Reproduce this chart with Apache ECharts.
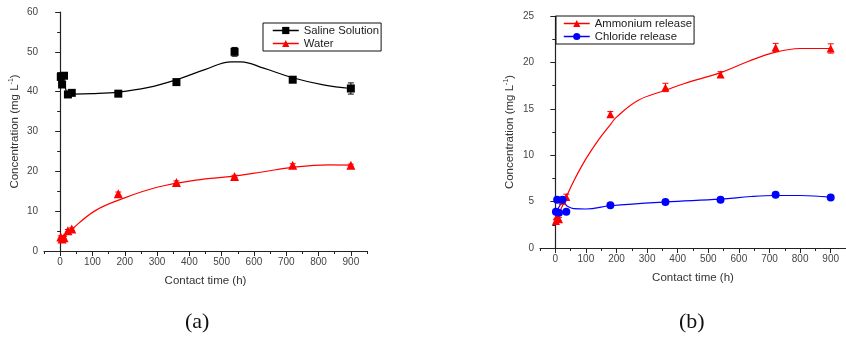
<!DOCTYPE html>
<html>
<head>
<meta charset="utf-8">
<script src="https://cdn.jsdelivr.net/npm/echarts@6/dist/echarts.min.js"></script>
<style>
  html, body { margin: 0; padding: 0; background: #fff; }
  #container { width: 846px; height: 343px; }
</style>
</head>
<body>
<div id="container"></div>
<script>
"use strict";

// sampling times (h)
const times = [2, 6, 12, 24, 36, 180, 360, 540, 720, 900];

// panel (a)
const saline = [43.7, 41.8, 44.0, 39.3, 39.7, 39.5, 42.4, 50.0, 43.0, 40.8];
const salineErr = [0.4, 0.4, 0.4, 0.4, 0.4, 0.4, 0.5, 1.1, 0.5, 1.4];
const water = [3.5, 3.0, 3.3, 5.1, 5.5, 14.4, 17.2, 18.7, 21.5, 21.5];
const waterErr = [0.3, 0.3, 0.3, 0.3, 0.3, 0.4, 0.4, 0.3, 0.4, 0.3];

// fitted curves (a)
const salineFitT = [2, 12, 25, 40, 100, 180, 270, 360, 450, 530, 560, 630, 720, 815, 900];
const salineFitV = [43.8, 42.0, 39.5, 39.4, 39.5, 39.9, 41.0, 43.0, 45.6, 47.5, 47.5, 45.9, 43.5, 41.7, 40.8];
const waterFitT = [0, 40, 110, 195, 300, 420, 540, 630, 720, 830, 900];
const waterFitV = [2.4, 5.7, 10.2, 13.2, 16.0, 17.8, 18.8, 19.9, 21.0, 21.6, 21.55];

// panel (b)
const ammonium = [2.9, 3.4, 3.1, 5.1, 5.5, 14.4, 17.3, 18.7, 21.6, 21.5];
const ammoniumErr = [0.2, 0.2, 0.2, 0.3, 0.3, 0.3, 0.45, 0.3, 0.45, 0.5];
const chloride = [3.9, 5.2, 3.8, 5.2, 3.9, 4.6, 4.95, 5.2, 5.75, 5.45];

const ammoniumFitT = [2, 20, 36, 60, 100, 140, 180, 200, 270, 360, 420, 540, 630, 720, 800, 900];
const ammoniumFitV = [3.0, 4.3, 5.5, 7.2, 9.6, 11.6, 13.3, 14.1, 15.9, 17.0, 17.7, 18.9, 20.1, 21.1, 21.5, 21.5];
const chlorideFitT = [2, 10, 20, 26, 40, 60, 100, 180, 360, 540, 640, 720, 800, 900];
const chlorideFitV = [3.9, 4.3, 4.8, 4.85, 4.5, 4.25, 4.2, 4.55, 4.97, 5.27, 5.55, 5.66, 5.66, 5.48];

const majorX = [0, 100, 200, 300, 400, 500, 600, 700, 800, 900];
const minorX = [-50, 50, 150, 250, 350, 450, 550, 650, 750, 850, 950];

const font = 'Liberation Sans, Arial, sans-serif';

function pairs(xs, ys) {
  return xs.map((x, i) => [x, ys[i]]);
}
function triples(xs, ys, es) {
  return xs.map((x, i) => [x, ys[i], es[i]]);
}

function errRender(params, api) {
  const x = api.value(0), y = api.value(1), e = api.value(2);
  const hi = api.coord([x, y + e]);
  const lo = api.coord([x, y - e]);
  const w = 3;
  const st = { stroke: api.visual('color'), lineWidth: 1 };
  return {
    type: 'group',
    children: [
      { type: 'line', shape: { x1: hi[0], y1: hi[1], x2: lo[0], y2: lo[1] }, style: st },
      { type: 'line', shape: { x1: hi[0] - w, y1: hi[1], x2: hi[0] + w, y2: hi[1] }, style: st },
      { type: 'line', shape: { x1: lo[0] - w, y1: lo[1], x2: lo[0] + w, y2: lo[1] }, style: st },
    ],
  };
}

function xAxes(grid) {
  return [
    {
      type: 'value', gridIndex: grid, min: -50, max: 950,
      name: 'Contact time (h)', nameLocation: 'middle', nameGap: 24,
      nameTextStyle: { fontFamily: font, fontSize: 11.5, color: '#333' },
      axisLine: { show: true, lineStyle: { color: '#222', width: 1.2 } },
      axisTick: { show: true, length: 5, customValues: majorX, lineStyle: { color: '#222' } },
      axisLabel: { customValues: majorX, fontFamily: font, fontSize: 10, color: '#444', margin: 6 },
      splitLine: { show: false },
    },
    {
      type: 'value', gridIndex: grid, min: -50, max: 950, position: 'bottom',
      axisLine: { show: false },
      axisTick: { show: true, length: 3, customValues: minorX, lineStyle: { color: '#222' } },
      axisLabel: { show: false },
      splitLine: { show: false },
    },
  ];
}

function yAxis(grid, max, interval, gap) {
  return {
    type: 'value', gridIndex: grid, min: 0, max: max, interval: interval,
    name: 'Concentration (mg L{sup|-1})', nameLocation: 'middle', nameGap: gap,
    nameTextStyle: {
      fontFamily: font, fontSize: 11.5, color: '#333',
      rich: { sup: { fontFamily: font, fontSize: 7, color: '#333', verticalAlign: 'top', padding: [0, 0, 6, 0] } },
    },
    axisLine: { show: true, lineStyle: { color: '#222', width: 1.2 } },
    axisTick: { show: true, length: 5, lineStyle: { color: '#222' } },
    minorTick: { show: true, splitNumber: 2, length: 3, lineStyle: { color: '#222' } },
    axisLabel: { fontFamily: font, fontSize: 10, color: '#444', margin: 6 },
    splitLine: { show: false },
  };
}

function points(name, x, y, data, color, symbol, size) {
  return {
    name: name, type: 'line', xAxisIndex: x, yAxisIndex: y,
    data: data, symbol: symbol, symbolSize: size, showSymbol: true,
    itemStyle: { color: color },
    lineStyle: { color: color, opacity: 0 },
    z: 5, animation: false,
  };
}

function curve(x, y, data, color) {
  return {
    type: 'line', xAxisIndex: x, yAxisIndex: y, data: data,
    smooth: 0.4, symbol: 'none',
    lineStyle: { color: color, width: 1.2 },
    z: 3, animation: false, silent: true,
  };
}

function errors(x, y, data, color) {
  return {
    type: 'custom', xAxisIndex: x, yAxisIndex: y, data: data,
    renderItem: errRender, itemStyle: { color: color },
    z: 4, animation: false, silent: true,
  };
}

const legendBase = {
  orient: 'vertical',
  borderColor: '#111', borderWidth: 1,
  itemWidth: 26, itemHeight: 9, itemGap: 2,
  textStyle: { fontFamily: font, fontSize: 11.3, color: '#222' },
  lineStyle: { opacity: 1, width: 1.5 },
  backgroundColor: '#fff',
};

let myChart = echarts.init(document.getElementById('container'), null, { renderer: 'canvas' });

let option = {
  animation: false,
  grid: [
    { left: 44, top: 12, width: 323, height: 239 },
    { left: 540, top: 16, width: 314, height: 232 },
  ],
  xAxis: [...xAxes(0), ...xAxes(1)],
  yAxis: [yAxis(0, 60, 10, 23), yAxis(1, 25, 5, 24)],
  legend: [
    Object.assign({}, legendBase, {
      left: 263, top: 23, padding: [2, 2, 2, 9],
      data: ['Saline Solution', 'Water'],
    }),
    Object.assign({}, legendBase, {
      left: 556, top: 16, padding: [2, 2, 2, 7],
      data: ['Ammonium release', 'Chloride release'],
    }),
  ],
  graphic: [
    { type: 'text', left: 185, top: 311, style: { text: '(a)', font: '22px "Liberation Serif", serif', fill: '#111' } },
    { type: 'text', left: 679, top: 311, style: { text: '(b)', font: '22px "Liberation Serif", serif', fill: '#111' } },
  ],
  series: [
    curve(0, 0, pairs(salineFitT, salineFitV), '#000'),
    curve(0, 0, pairs(waterFitT, waterFitV), '#ff0000'),
    errors(0, 0, triples(times, saline, salineErr), '#000'),
    errors(0, 0, triples(times, water, waterErr), '#ff0000'),
    points('Saline Solution', 0, 0, pairs(times, saline), '#000', 'rect', 8),
    points('Water', 0, 0, pairs(times, water), '#ff0000', 'triangle', 9),

    curve(2, 1, pairs(ammoniumFitT, ammoniumFitV), '#ff0000'),
    curve(2, 1, pairs(chlorideFitT, chlorideFitV), '#0000ff'),
    errors(2, 1, triples(times, ammonium, ammoniumErr), '#ff0000'),
    points('Ammonium release', 2, 1, pairs(times, ammonium), '#ff0000', 'triangle', 8),
    points('Chloride release', 2, 1, pairs(times, chloride), '#0000ff', 'circle', 8),
  ],
};

myChart.setOption(option);
</script>
</body>
</html>
